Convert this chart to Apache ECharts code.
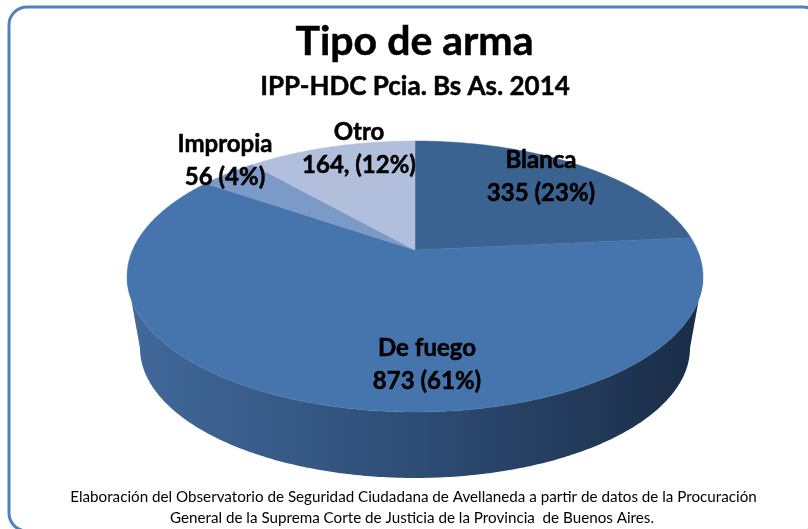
<!DOCTYPE html>
<html><head><meta charset="utf-8">
<style>html,body{margin:0;padding:0;background:#fff}#c{width:808px;height:529px}</style>
<script src="https://cdn.jsdelivr.net/npm/echarts@6/dist/echarts.min.js"></script>
</head><body><div id="c"></div>
<script>
const categories = ['Blanca', 'De fuego', 'Impropia', 'Otro'];
const values = [335, 873, 56, 164];
const labelLines = [['Blanca', '335 (23%)'], ['De fuego', '873 (61%)'], ['Impropia', '56 (4%)'], ['Otro', '164, (12%)']];
const faceColors = ['#3B6391', '#4675AD', '#7B9AC7', '#B1BFDC'];
const labelAnchors = [[541, 177], [427, 365], [225, 161], [359, 149]];
const footnoteLines = ['Elaboración del Observatorio de Seguridad Ciudadana de Avellaneda a partir de datos de la Procuración',
  'General de la Suprema Corte de Justicia de la Provincia  de Buenos Aires.'];

const total = values.reduce((a, b) => a + b, 0);
const K = 0.1955;
const top3d = { cx: 415, cy: 250, A: 282.4, B: 130.3 };
const bot3d = { cx: 415, cy: 322.6, A: 269.7, B: 125 };
function project(p, th) {
  const x = Math.sin(th), y = -Math.cos(th), w = 1 - K * y;
  return [p.cx + p.A * x / w, p.cy + p.B * y / w];
}
function arc(p, a, b) {
  const n = Math.max(2, Math.ceil(Math.abs(b - a) / 0.01)), pts = [];
  for (let i = 0; i <= n; i++) pts.push(project(p, a + (b - a) * i / n));
  return pts;
}
function range(idx) {
  let s = 0;
  for (let i = 0; i < idx; i++) s += values[i];
  return [s / total * 2 * Math.PI, (s + values[idx]) / total * 2 * Math.PI];
}
const visA = Math.acos(-K), visB = 2 * Math.PI - visA;
const heavy = { stroke: '#000', lineWidth: 0.5 };

const option = {
  animation: false,
  graphic: [
    { type: 'rect', z: -1, shape: { x: 9, y: 7, width: 812, height: 524, r: 18 },
      style: { fill: '#fff', stroke: '#4F81BD', lineWidth: 3 } },
    { type: 'text', x: 414.5, y: 42, z: 5, style: Object.assign({ text: 'Tipo de arma', fontFamily: 'Lato', fontWeight: 'bold', fontSize: 41, fill: '#000', align: 'center', verticalAlign: 'middle' }, heavy) },
    { type: 'text', x: 415, y: 87, z: 5, style: Object.assign({ text: 'IPP-HDC Pcia. Bs As. 2014', fontFamily: 'Lato', fontWeight: 'bold', fontSize: 26, fill: '#000', align: 'center', verticalAlign: 'middle' }, heavy) },
    { type: 'text', x: 413.5, y: 497, z: 5, style: { text: footnoteLines[0], fontFamily: 'Lato', fontSize: 15.2, fill: '#000', align: 'center', verticalAlign: 'middle' } },
    { type: 'text', x: 412, y: 518, z: 5, style: { text: footnoteLines[1], fontFamily: 'Lato', fontSize: 15.2, fill: '#000', align: 'center', verticalAlign: 'middle' } }
  ],
  series: [
    { type: 'custom', coordinateSystem: 'none', z: 1, data: values, silent: true,
      renderItem(params) {
        const [a, b] = range(params.dataIndex);
        const s = Math.max(a, visA), e = Math.min(b, visB);
        if (e <= s) return { type: 'group', children: [] };
        const pts = arc(top3d, s, e).concat(arc(bot3d, e, s));
        return { type: 'polygon', shape: { points: pts }, style: {
          fill: new echarts.graphic.LinearGradient(0, 0, 1, 0, [
            { offset: 0, color: '#41699B' }, { offset: 0.5, color: '#2E4D75' }, { offset: 1, color: '#1A2C46' }
          ]) } };
      } },
    { type: 'custom', coordinateSystem: 'none', z: 2, data: values, silent: true,
      renderItem(params) {
        const i = params.dataIndex, [a, b] = range(i);
        const pts = [[top3d.cx, top3d.cy]].concat(arc(top3d, a, b));
        return { type: 'polygon', shape: { points: pts },
          style: { fill: faceColors[i], stroke: faceColors[i], lineWidth: 0.5 } };
      } },
    { type: 'custom', coordinateSystem: 'none', z: 3, data: categories, silent: true,
      renderItem(params) {
        const i = params.dataIndex;
        return { type: 'text', x: labelAnchors[i][0], y: labelAnchors[i][1], style: Object.assign({
          text: labelLines[i].join('\n'), fontFamily: 'Lato', fontWeight: 'bold', fontSize: 24, lineHeight: 32.5,
          fill: '#000', align: 'center', verticalAlign: 'middle' }, heavy) };
      } }
  ]
};
echarts.init(document.getElementById('c'), null, { renderer: 'canvas' }).setOption(option);
</script></body></html>
